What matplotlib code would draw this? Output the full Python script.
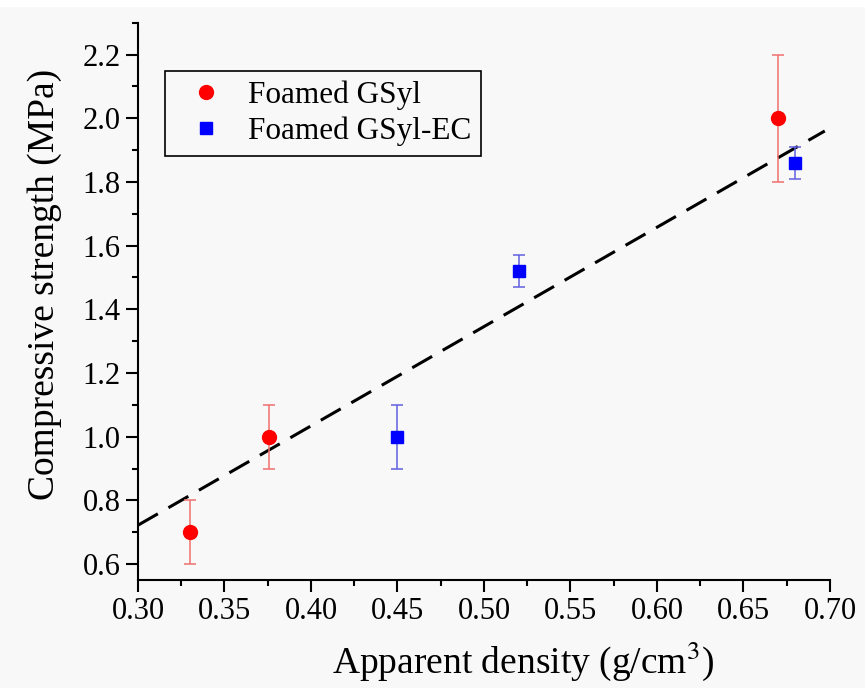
import matplotlib
matplotlib.use("Agg")
import matplotlib.pyplot as plt
from matplotlib.ticker import MultipleLocator, FormatStrFormatter

# --- data ---
gsyl_x = [0.33, 0.376, 0.67]
gsyl_y = [0.70, 1.00, 2.00]
gsyl_err = [0.10, 0.10, 0.20]

ec_x = [0.45, 0.52, 0.68]
ec_y = [1.00, 1.52, 1.86]
ec_err = [0.10, 0.05, 0.05]

fit_x = [0.30, 0.697]
fit_y = [0.722, 1.96]

labels = ["Foamed GSyl", "Foamed GSyl-EC"]

plt.rcParams["font.family"] = ["Liberation Serif", "DejaVu Serif"]
plt.rcParams["mathtext.fontset"] = "stix"

fig = plt.figure(figsize=(8.65, 6.88), dpi=100, facecolor="#f8f8f8")
ax = fig.add_axes([0.1595, 0.157, 0.80, 0.81])
ax.set_facecolor("#f8f8f8")

ax.plot(fit_x, fit_y, color="black", lw=2.2, dashes=(7.5, 4), zorder=2)

# error bars (no legend entry), then markers with labels
ax.errorbar(gsyl_x, gsyl_y, yerr=gsyl_err, fmt="none", ecolor="#f07070",
            elinewidth=1.1, capsize=4, capthick=1.1, zorder=3)
ax.errorbar(ec_x, ec_y, yerr=ec_err, fmt="none", ecolor="#6060e0",
            elinewidth=1.1, capsize=4, capthick=1.1, zorder=3)
ax.plot(gsyl_x, gsyl_y, "o", color="#ff0000", ms=10, label=labels[0],
        zorder=4)
ax.plot(ec_x, ec_y, "s", color="#0000ff", ms=8.5, label=labels[1],
        zorder=4)

ax.set_xlim(0.30, 0.70)
ax.set_ylim(0.55, 2.30)
ax.xaxis.set_major_locator(MultipleLocator(0.05))
ax.xaxis.set_minor_locator(MultipleLocator(0.025))
ax.yaxis.set_major_locator(MultipleLocator(0.2))
ax.yaxis.set_minor_locator(MultipleLocator(0.1))
ax.xaxis.set_major_formatter(FormatStrFormatter("%.2f"))
ax.yaxis.set_major_formatter(FormatStrFormatter("%.1f"))

for s in ["top", "right"]:
    ax.spines[s].set_visible(False)
for s in ["left", "bottom"]:
    ax.spines[s].set_linewidth(1.5)

ax.tick_params(which="major", direction="out", length=8.5, width=1.5,
               labelsize=22, pad=4)
ax.tick_params(which="minor", direction="out", length=4.5, width=1.5)

ax.set_xlabel("Apparent density (g/cm$^3$)", fontsize=27)
ax.set_ylabel("Compressive strength (MPa)", fontsize=27)
ax.xaxis.set_label_coords(0.556, -0.106)
ax.yaxis.set_label_coords(-0.11, 0.531)

leg = ax.legend(loc="upper left", bbox_to_anchor=(0.1908, 0.8968),
                bbox_transform=fig.transFigure, borderaxespad=0,
                fontsize=22.5, frameon=True, fancybox=False,
                handletextpad=0.35, labelspacing=0.22, borderpad=0.3,
                handlelength=2.0)
leg.get_frame().set_edgecolor("black")
leg.get_frame().set_linewidth(1.2)
leg.get_frame().set_facecolor("#f8f8f8")
leg.get_frame().set_alpha(1)

fig.patches.append(plt.Rectangle((0, 1 - 6 / 688), 1, 6 / 688,
                                 transform=fig.transFigure, color="white",
                                 zorder=0))

fig.savefig("out.png", dpi=100, facecolor=fig.get_facecolor())
